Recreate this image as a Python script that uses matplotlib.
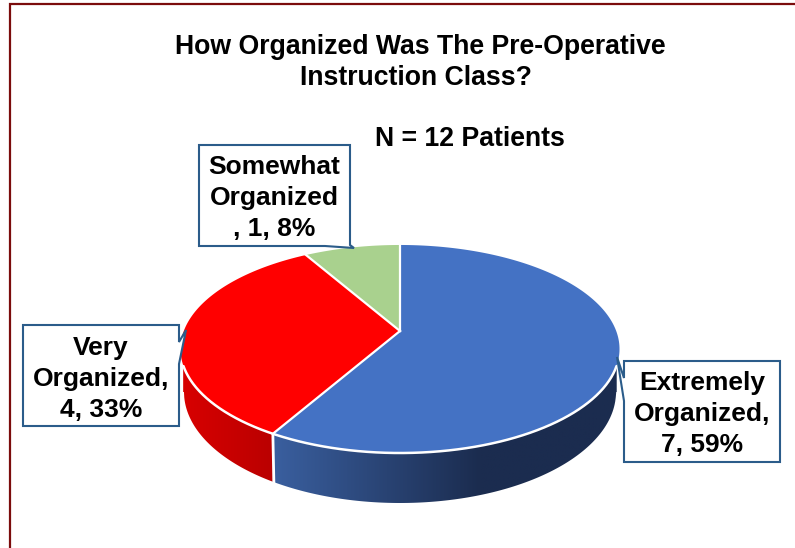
import numpy as np
import matplotlib
matplotlib.use('Agg')
import matplotlib.pyplot as plt
from matplotlib.colors import LinearSegmentedColormap
from matplotlib.patches import Polygon

# Data
label_names = ['Extremely\nOrganized,\n', 'Very\nOrganized,\n', 'Somewhat\nOrganized\n, ']
patient_counts = [7, 4, 1]
percent_labels = [59, 33, 8]
title_lines = ['How Organized Was The Pre-Operative', 'Instruction Class?']
subtitle = 'N = 12 Patients'

top_colors = ['#4472C4', '#FF0000', '#A9D18E']
wall_colors = [('#3A5F9F', '#1B2C4F', 273, 480), ('#D80000', '#BA0000', 182, 273), None]

plt.rcParams['font.family'] = ['Liberation Sans', 'DejaVu Sans']

fig = plt.figure(figsize=(7.95, 5.48), dpi=100)
ax = fig.add_axes([0, 0, 1, 1])
ax.set_xlim(0, 795)
ax.set_ylim(548, 0)
ax.axis('off')

# Bingkai luar
border = '#7B0C0C'
ax.plot([795, 9.5, 9.5], [4, 4, 548], color=border, lw=1.6, solid_joinstyle='miter', zorder=1)

# Pusat pie dan perspektif tutup atas
cx, cy = 400, 331
a, b, k = 216.2, 100.9, 0.173
# Elips bawah
bot_rx, bot_cy, bot_ry = 216, 392, 111


def rim(t_deg):
    # t dihitung searah jarum jam dari atas
    t = np.radians(t_deg)
    s, c = np.cos(t), np.sin(t)
    return cx + a * c / (1 + k * s), cy - b * s / (1 + k * s)


def bottom_y(x):
    r = np.clip((x - cx) / bot_rx, -1, 1)
    return bot_cy + bot_ry * np.sqrt(1 - r ** 2)


fractions = np.array(patient_counts) / sum(patient_counts)
edges = np.concatenate([[0], np.cumsum(fractions) * 360])

# Dinding samping
for i in range(len(patient_counts)):
    if wall_colors[i] is None:
        continue
    t = np.linspace(edges[i], edges[i + 1], 300)
    x, y = rim(t)
    keep = (np.abs(x - cx) <= bot_rx + 1) & (y > 349)
    x, y = x[keep], y[keep]
    pts = np.vstack([np.column_stack([x, y]),
                     np.column_stack([x[::-1], bottom_y(x[::-1])])])
    poly = Polygon(pts, closed=True, fc='none', ec='none', zorder=2)
    ax.add_patch(poly)
    c0, c1, x0, x1 = wall_colors[i]
    cmap = LinearSegmentedColormap.from_list('wall', [c0, c1])
    grad = np.clip((np.linspace(x.min(), x.max(), 256) - x0) / (x1 - x0), 0, 1)
    im = ax.imshow(grad[np.newaxis, :], cmap=cmap, vmin=0, vmax=1, aspect='auto',
                   extent=[x.min(), x.max(), 510, 340], zorder=2)
    im.set_clip_path(poly)

ax.set_xlim(0, 795)
ax.set_ylim(548, 0)

# Garis putih di batas dinding
fx, fy = rim(edges[1])
ax.plot([fx, fx + 1], [fy, bottom_y(fx)], color='white', lw=2, zorder=3)

# Tutup atas
for i in range(len(patient_counts)):
    t = np.linspace(edges[i], edges[i + 1], 200)
    x, y = rim(t)
    pts = np.vstack([[cx, cy], np.column_stack([x, y])])
    ax.add_patch(Polygon(pts, closed=True, fc=top_colors[i], ec='none', zorder=4))

# Garis putih antar irisan dan tepi depan
for e in edges[:-1]:
    ex, ey = rim(e)
    ax.plot([cx, ex], [cy, ey], color='white', lw=1.6, zorder=5)
t = np.linspace(0, 360, 720)
x, y = rim(t)
keep = (y > 366)
ax.plot(x[keep], y[keep], color='white', lw=1.8, zorder=5, solid_capstyle='round')

# Judul
ax.text(420, 47, title_lines[0], fontsize=19.2, fontweight='bold', ha='center', va='center', color='black')
ax.text(416, 78, title_lines[1], fontsize=19.2, fontweight='bold', ha='center', va='center', color='black')
ax.text(470, 139, subtitle, fontsize=19.2, fontweight='bold', ha='center', va='center', color='black')

# Kotak callout
callout_color = '#2B5C8A'
boxes = [
    [(624, 361), (780, 361), (780, 462), (624, 462), (624, 401), (617, 357), (624, 378)],
    [(23, 325), (179, 325), (179, 342), (186, 330), (179, 364), (179, 426), (23, 426)],
    [(199, 145), (350, 145), (350, 245), (354, 248), (325, 246), (199, 246)],
]
text_pos = [(702, 414), (101, 379), (274, 198)]

for i in range(len(patient_counts)):
    ax.add_patch(Polygon(boxes[i], closed=True, fc='white', ec=callout_color, lw=1.5,
                         joinstyle='miter', zorder=6))
    label = f'{label_names[i]}{patient_counts[i]}, {percent_labels[i]}%'
    ax.text(text_pos[i][0], text_pos[i][1], label, fontsize=19, fontweight='bold',
            ha='center', va='center', linespacing=1.36, color='black', zorder=7)

fig.savefig('out.png', dpi=100)
